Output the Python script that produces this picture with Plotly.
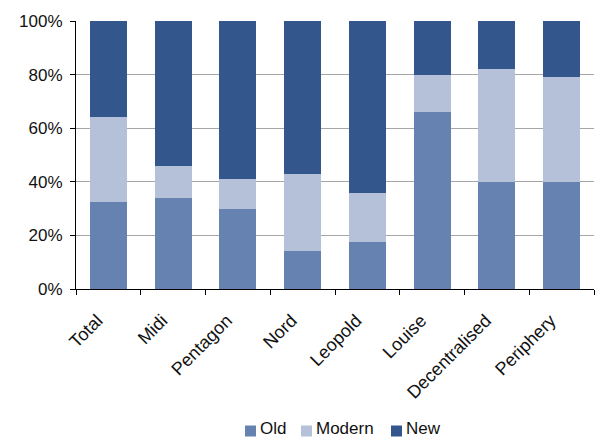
import plotly.graph_objects as go

categories = ["Total", "Midi", "Pentagon", "Nord", "Leopold", "Louise", "Decentralised", "Periphery"]
old = [32.5, 34, 30, 14, 17.5, 66, 40, 40]
modern = [31.5, 12, 11, 29, 18.5, 14, 42, 39]
new = [36, 54, 59, 57, 64, 20, 18, 21]
series_names = ["Old", "Modern", "New"]
tick_values = [0, 20, 40, 60, 80, 100]
tick_labels = ["0%", "20%", "40%", "60%", "80%", "100%"]

colors = {"Old": "#6682B0", "Modern": "#B4C1D8", "New": "#33578C"}

W, H = 595, 439
L, R, T, B = 76, 1, 21, 150
pw, ph = W - L - R, H - T - B

fig = go.Figure()
for name, vals in zip(series_names, [old, modern, new]):
    fig.add_trace(go.Bar(x=categories, y=vals, name=name, marker_color=colors[name],
                         marker_line_width=0, width=0.57, showlegend=False))

# custom legend (swatch + text), positioned in pixel terms
legend_items = [("Old", 245, 259), ("Modern", 301, 315), ("New", 391, 405)]
def px_x(p):
    return (p - L) / pw
def px_y(p):
    return (H - B - p) / ph
for name, sx, tx in legend_items:
    fig.add_shape(type="rect", xref="paper", yref="paper",
                  x0=px_x(sx), x1=px_x(sx + 11), y0=px_y(436.5), y1=px_y(425.5),
                  fillcolor=colors[name], line_width=0)
    fig.add_annotation(xref="paper", yref="paper", x=px_x(tx), y=px_y(439),
                       xanchor="left", yanchor="bottom", text=name, showarrow=False,
                       borderpad=0, font=dict(size=17, color="#111111"))

fig.update_layout(
    barmode="stack",
    width=W, height=H,
    margin=dict(l=L, r=R, t=T, b=B, autoexpand=False),
    plot_bgcolor="white", paper_bgcolor="white",
    font=dict(family="Liberation Sans, Arial, sans-serif", size=17, color="#111111"),
    showlegend=False,
)
fig.update_yaxes(range=[0, 100], tickvals=tick_values, ticktext=tick_labels,
                 showgrid=True, gridcolor="#A6A6A6", gridwidth=1,
                 showline=True, linecolor="black", linewidth=1,
                 ticks="outside", ticklen=5, tickcolor="black", zeroline=False,
                 ticklabelstandoff=4, automargin=False)
fig.update_xaxes(showline=True, linecolor="black", linewidth=1,
                 ticks="outside", ticklen=5, tickcolor="black",
                 tickson="boundaries", tickangle=-45, showgrid=False,
                 tickfont=dict(size=18),
                 ticklabelstandoff=13, ticklabelshift=-11, automargin=False)

fig.write_html("out.html")
